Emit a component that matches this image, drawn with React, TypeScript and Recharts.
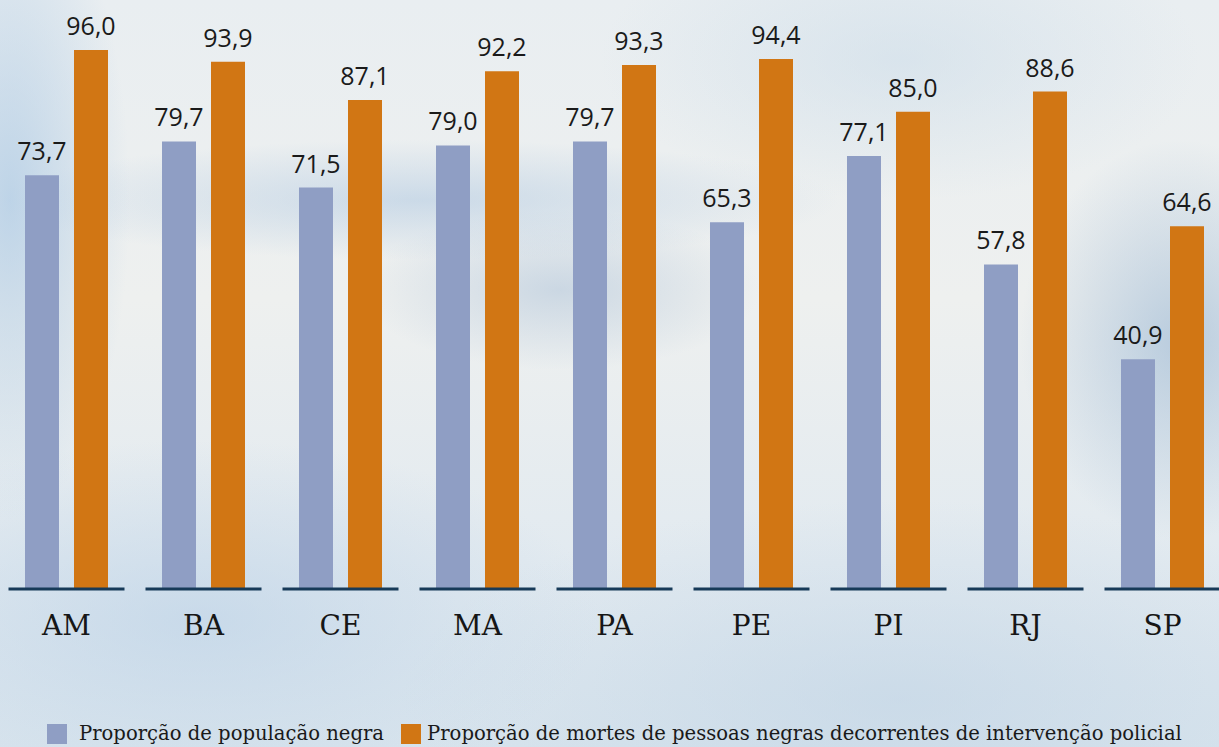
import React from 'react';
import { BarChart, Bar, XAxis, YAxis, LabelList, Legend } from 'recharts';

const states = ['AM', 'BA', 'CE', 'MA', 'PA', 'PE', 'PI', 'RJ', 'SP'];
const populacaoNegra = [73.7, 79.7, 71.5, 79.0, 79.7, 65.3, 77.1, 57.8, 40.9];
const mortesNegras = [96.0, 93.9, 87.1, 92.2, 93.3, 94.4, 85.0, 88.6, 64.6];
const seriesNames = [
  'Proporção de população negra',
  'Proporção de mortes de pessoas negras decorrentes de intervenção policial',
];
const colors = ['#8f9ec4', '#d17614'];

const data = states.map((s, i) => ({
  state: s,
  pop: populacaoNegra[i],
  mortes: mortesNegras[i],
}));

const fmt = (v: any) => Number(v).toFixed(1).replace('.', ',');

const Tick = (props: any) => {
  const { x, y, payload } = props;
  return (
    <g>
      <line x1={x - 58} x2={x + 58} y1={y} y2={y} stroke="#173a58" strokeWidth={3} />
      <text
        x={x}
        y={y + 46}
        textAnchor="middle"
        fontFamily="'DejaVu Serif', serif"
        fontSize={28}
        fill="#161616"
      >
        {payload.value}
      </text>
    </g>
  );
};

const LegendContent = () => (
  <div style={{ display: 'flex', alignItems: 'center', fontFamily: "'DejaVu Serif', serif", fontSize: 19.6, color: '#1a1a1a', whiteSpace: 'nowrap' }}>
    {seriesNames.map((n, i) => (
      <div key={n} style={{ display: 'flex', alignItems: 'center', marginRight: 17 }}>
        <div style={{ width: 20, height: 20, background: colors[i], marginRight: i === 0 ? 12 : 6 }} />
        <span>{n}</span>
      </div>
    ))}
  </div>
);

const bg = [
  'radial-gradient(ellipse 120px 320px at 10px 200px, rgba(170,200,228,0.7), rgba(170,200,228,0) 100%)',
  'radial-gradient(ellipse 420px 60px at 420px 200px, rgba(175,200,225,0.55), rgba(175,200,225,0) 100%)',
  'radial-gradient(ellipse 200px 80px at 560px 290px, rgba(160,185,212,0.45), rgba(160,185,212,0) 100%)',
  'radial-gradient(ellipse 160px 200px at 1180px 340px, rgba(150,180,210,0.6), rgba(150,180,210,0) 100%)',
  'radial-gradient(ellipse 400px 180px at 200px 620px, rgba(185,208,230,0.6), rgba(185,208,230,0) 100%)',
  'radial-gradient(ellipse 500px 200px at 900px 700px, rgba(190,210,228,0.55), rgba(190,210,228,0) 100%)',
  'radial-gradient(ellipse 300px 140px at 900px 60px, rgba(200,218,232,0.5), rgba(200,218,232,0) 100%)',
  'linear-gradient(180deg, #e9eef1 0%, #eef0ef 40%, #e2eaf0 75%, #d8e4ed 100%)',
].join(',');

export default function App() {
  return (
    <div style={{ position: 'absolute', left: 0, top: 0, width: 1219, height: 747, overflow: 'hidden', background: bg }}>
      <div style={{ position: 'absolute', left: -2, top: 0 }}>
        <BarChart
          width={1233}
          height={747}
          data={data}
          margin={{ top: 27.5, right: 0, bottom: 58, left: 0 }}
          barCategoryGap={27}
          barGap={15}
        >
          <XAxis
            dataKey="state"
            axisLine={false}
            tickLine={false}
            tickSize={0}
            tickMargin={0}
            height={100}
            interval={0}
            tick={<Tick />}
          />
          <YAxis hide domain={[0, 100]} />
          <Legend
            layout="horizontal"
            verticalAlign="middle"
            align="center"
            wrapperStyle={{ top: 722, left: 49, width: 1200 }}
            content={<LegendContent />}
          />
          <Bar dataKey="pop" name={seriesNames[0]} fill={colors[0]} barSize={34} isAnimationActive={false}>
            <LabelList dataKey="pop" position="top" offset={15} formatter={fmt} fill="#1a1a1a" fontSize={25} fontFamily="'Open Sans', sans-serif" />
          </Bar>
          <Bar dataKey="mortes" name={seriesNames[1]} fill={colors[1]} barSize={34} isAnimationActive={false}>
            <LabelList dataKey="mortes" position="top" offset={15} formatter={fmt} fill="#1a1a1a" fontSize={25} fontFamily="'Open Sans', sans-serif" />
          </Bar>
        </BarChart>
      </div>
    </div>
  );
}
